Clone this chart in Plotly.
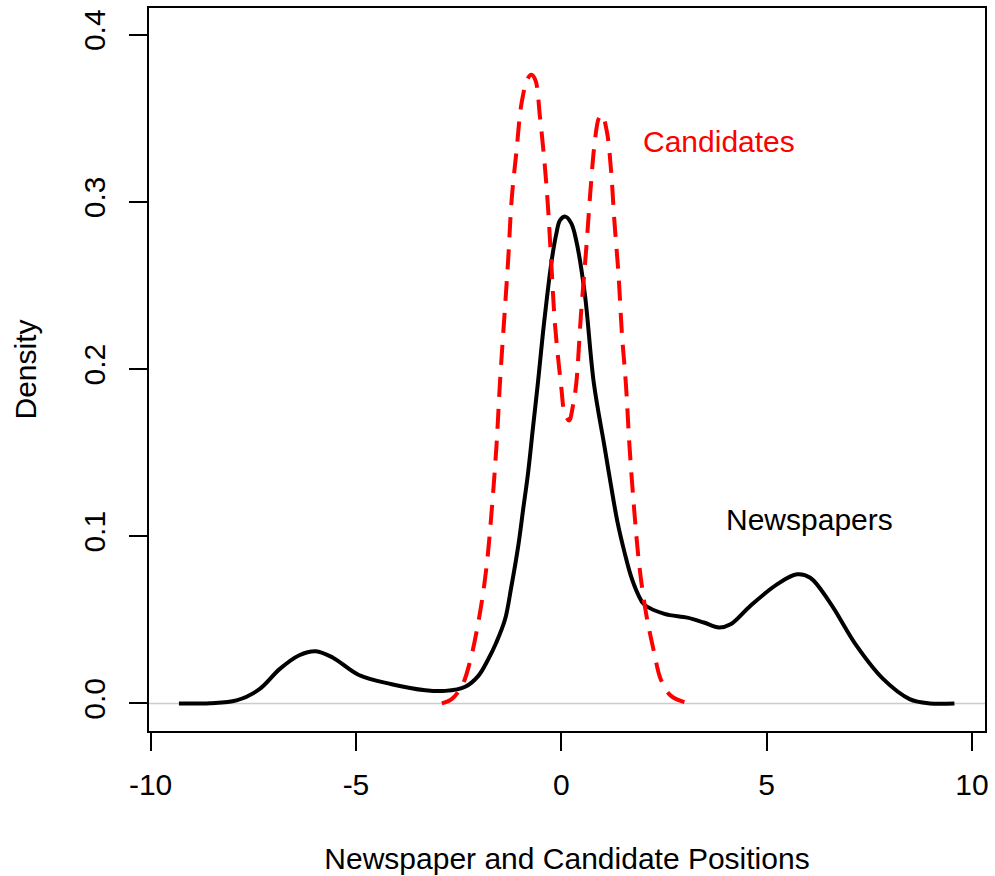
import plotly.graph_objects as go

# Kernel density estimate of newspaper positions (solid black)
news_x = [-9.31, -8.56, -7.91, -7.35, -6.86, -6.38, -5.98, -5.57, -4.93, -4.13,
          -3.31, -2.83, -2.34, -2.02, -1.78, -1.58, -1.37, -1.22, -1.05, -0.93,
          -0.81, -0.69, -0.57, -0.42, -0.24, -0.12, -0.03, 0.10, 0.24, 0.36,
          0.57, 0.79, 1.05, 1.20, 1.37, 1.54, 1.70, 1.86, 2.02, 2.51,
          3.07, 3.47, 3.84, 4.12, 4.60, 5.25, 5.74, 6.06, 6.54, 7.19,
          7.84, 8.48, 8.97, 9.57]
news_y = [0.0, 0.0001, 0.0018, 0.0085, 0.0205, 0.0288, 0.0312, 0.0275, 0.0170, 0.0115,
          0.0079, 0.0075, 0.0100, 0.0165, 0.0264, 0.0366, 0.0503, 0.0694, 0.0941, 0.1160,
          0.1379, 0.1650, 0.1918, 0.2277, 0.2641, 0.2812, 0.2891, 0.2912, 0.2873, 0.2772,
          0.2454, 0.1918, 0.1538, 0.1317, 0.1081, 0.0902, 0.0758, 0.0657, 0.0591, 0.0536,
          0.0513, 0.0484, 0.0454, 0.0473, 0.0583, 0.0712, 0.0772, 0.0752, 0.0603, 0.0344,
          0.0145, 0.0026, 0.0, 0.0]

# Kernel density estimate of candidate positions (dashed red)
cand_x = [-2.91, -2.67, -2.42, -2.22, -1.98, -1.82, -1.70, -1.58, -1.49, -1.37,
          -1.29, -1.21, -1.09, -0.97, -0.82, -0.73, -0.63, -0.52, -0.40, -0.32,
          -0.24, -0.15, 0.00, 0.08, 0.19, 0.28, 0.36, 0.48, 0.61, 0.71,
          0.81, 0.91, 0.99, 1.11, 1.21, 1.29, 1.39, 1.48, 1.57, 1.66,
          1.78, 1.90, 2.06, 2.26, 2.42, 2.67, 3.11]
cand_y = [0.0, 0.0026, 0.0105, 0.0253, 0.0543, 0.0821, 0.1140, 0.1538, 0.1936, 0.2374,
          0.2672, 0.3011, 0.3309, 0.3588, 0.3737, 0.3760, 0.3727, 0.3508, 0.3210, 0.2951,
          0.2613, 0.2254, 0.1888, 0.1737, 0.1693, 0.1777, 0.1906, 0.2334, 0.2732, 0.3070,
          0.3349, 0.3499, 0.3522, 0.3419, 0.3190, 0.2891, 0.2573, 0.2195, 0.1918, 0.1538,
          0.1140, 0.0821, 0.0543, 0.0304, 0.0145, 0.0045, 0.0]

x_ticks = [-10, -5, 0, 5, 10]
y_ticks = [0.0, 0.1, 0.2, 0.3, 0.4]
y_tick_text = ["0.0", "0.1", "0.2", "0.3", "0.4"]

FONT = "Liberation Sans, Arial, Helvetica, sans-serif"
FS = 30

fig = go.Figure()

fig.add_trace(go.Scatter(
    x=news_x, y=news_y, mode="lines", name="Newspapers",
    line=dict(color="black", width=4, shape="spline", smoothing=1.0),
    showlegend=False,
))
fig.add_trace(go.Scatter(
    x=cand_x, y=cand_y, mode="lines", name="Candidates",
    line=dict(color="red", width=4, shape="spline", smoothing=1.0, dash="20px,12px"),
    showlegend=False,
))

# horizontal reference line at zero density
fig.add_shape(type="line", xref="paper", yref="y", x0=0, x1=1, y0=0, y1=0,
              line=dict(color="#cccccc", width=1.5), layer="below")

fig.add_annotation(x=3.83, y=0.336, text="Candidates", showarrow=False,
                   font=dict(family=FONT, size=FS, color="red"),
                   xanchor="center", yanchor="middle")
fig.add_annotation(x=6.04, y=0.11, text="Newspapers", showarrow=False,
                   font=dict(family=FONT, size=FS, color="black"),
                   xanchor="center", yanchor="middle")

fig.update_layout(
    width=995, height=876,
    margin=dict(l=149, r=6, t=8, b=144),
    paper_bgcolor="white", plot_bgcolor="white",
    font=dict(family=FONT, size=FS, color="black"),
    xaxis=dict(
        range=[-10.039, 10.315], tickvals=x_ticks, ticktext=[str(v) for v in x_ticks],
        ticks="outside", ticklen=18, tickwidth=2, tickcolor="black",
        showline=True, linewidth=2, linecolor="black", mirror=True,
        showgrid=False, zeroline=False, ticklabelstandoff=8,
        title=dict(text="Newspaper and Candidate Positions", standoff=48,
                   font=dict(family=FONT, size=FS)),
        tickfont=dict(family=FONT, size=FS),
    ),
    yaxis=dict(
        range=[-0.0165, 0.416], tickvals=y_ticks, ticktext=y_tick_text,
        ticks="outside", ticklen=18, tickwidth=2, tickcolor="black",
        showline=True, linewidth=2, linecolor="black", mirror=True,
        showgrid=False, zeroline=False, tickangle=-90, ticklabelstandoff=12,
        title=dict(text="Density", standoff=33, font=dict(family=FONT, size=FS)),
        tickfont=dict(family=FONT, size=FS),
    ),
)

fig.write_html("out.html")
